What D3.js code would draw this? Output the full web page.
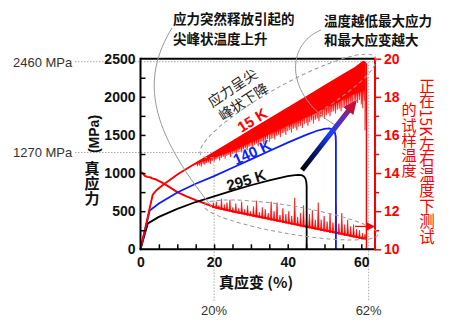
<!DOCTYPE html>
<html><head><meta charset="utf-8">
<script src="https://cdn.jsdelivr.net/npm/d3@7"></script>
<style>body{margin:0;background:#fff}svg{display:block}</style>
</head><body><svg id="c" width="452" height="325"></svg>
<script>
// ---------- data ----------
const strain295 = [0, 2.0, 5, 10, 15, 20, 25, 30, 35, 40, 41.5, 42.8, 43.8, 44.4, 44.85, 45.05, 45.15, 45.15];
const stress295 = [0, 340, 425, 530, 620, 695, 770, 840, 905, 960, 970, 977, 972, 955, 925, 885, 830, 0];

const strain140 = [0, 2.5, 5, 10, 15, 20, 25, 30, 35, 40, 45, 48, 50, 51.3, 52.2, 52.8, 53.05, 53.1, 53.1];
const stress140 = [0, 510, 600, 745, 860, 960, 1070, 1180, 1290, 1400, 1500, 1555, 1580, 1585, 1570, 1535, 1480, 1400, 0];

const strain15 = [0, 3.3, 4.4, 6, 10, 14, 17, 20, 25, 30, 35, 40, 45, 50, 55, 58, 60.5, 61.2];
const top15 = [0, 712, 778, 840, 980, 1100, 1185, 1270, 1415, 1560, 1705, 1850, 1995, 2140, 2285, 2370, 2460, 2450];
const low15 = [0, 712, 778, 840, 980, 1100, 1150, 1200, 1290, 1400, 1510, 1620, 1730, 1840, 1960, 2030, 2080, 2080];
const drop15Strain = 61.4;
const drop15From = 2440;
// serration drops of the 15 K curve: [strain %, lowest stress MPa]
const serr15 = [
 [15.5,1090],[16,1100],[16.5,1085],[17,1120],[17.5,1110],[18,1130],[18.5,1140],[19,1120],[19.5,1160],[20,1150],
 [20.5,1175],[21,1190],[21.5,1165],[22,1200],[22.5,1215],[23,1190],[23.5,1230],[24,1240],[24.5,1210],[25,1250],
 [25.5,1265],[26,1240],[26.5,1280],[27,1300],[27.5,1270],[28,1310],[28.5,1330],[29,1300],[29.5,1345],[30,1355],
 [30.5,1330],[31,1370],[31.5,1385],[32,1350],[32.5,1400],[33,1410],[33.5,1380],[34,1430],[34.5,1445],[35,1410],
 [35.5,1460],[36,1475],[36.5,1440],[37,1490],[37.5,1500],[38,1470],[38.5,1520],[39,1535],[39.5,1500],[40,1550],
 [40.5,1565],[41,1530],[41.5,1580],[42,1595],[42.5,1560],[43,1610],[43.5,1620],[44,1590],[44.5,1640],[45,1655],
 [45.5,1620],[46,1670],[46.5,1690],[47,1650],[47.5,1700],[48,1715],[48.5,1680],[49,1730],[49.5,1745],[50,1710],
 [50.5,1760],[51,1780],[51.5,1745],[52,1800],[52.5,1810],[53,1780],[53.5,1830],[54,1845],[54.5,1810],[55,1860],
 [55.5,1880],[56,1850],[56.5,1900],[57,1910],[57.5,1880],[58,1930],[58.5,1950],[59,1920],[59.5,1960],[60,1900],
 [60.4,1850],[60.8,1950],[61.0,1560]
];

// sample temperature (right axis, K)
const tempStrain = [0, 0.6, 1.2, 1.8, 2.6, 3.2, 4, 6, 8, 10, 12.5, 15, 17.5, 20, 25, 30, 35, 40, 45, 50, 55, 60, 61.4];
const tempK = [14.05, 14.0, 13.85, 13.8, 13.78, 13.72, 13.68, 13.48, 13.25, 13.0, 12.78, 12.58, 12.4, 12.22, 12.0, 11.8, 11.6, 11.4, 11.2, 11.0, 10.8, 10.6, 10.55];
// temperature spikes: [strain %, peak K]
const tempSpikes = [
 [19.8,12.45],[20.6,12.5],[21.3,12.3],[22.0,12.65],[22.8,12.35],[23.5,12.45],[24.3,12.6],[25.1,12.2],[25.9,12.4],[26.7,12.15],
 [27.5,12.5],[28.3,12.1],[29.1,12.3],[29.9,12.0],[30.7,12.25],[31.5,12.55],[32.3,11.95],[33.1,12.2],[33.9,12.1],[34.7,11.9],
 [35.5,12.5],[36.3,12.0],[37.1,12.45],[37.9,11.8],[38.7,12.15],[39.5,11.85],[40.3,12.0],[41.1,11.75],[41.9,12.7],[42.7,11.7],
 [43.5,11.9],[44.3,12.3],[45.1,11.65],[45.9,11.85],[46.7,12.05],[47.5,11.55],[48.3,12.45],[49.1,11.55],[49.9,11.75],[50.7,11.45],
 [51.5,11.9],[52.3,11.4],[53.1,12.4],[53.9,11.35],[54.7,11.9],[55.5,11.3],[56.3,11.55],[57.1,11.2],[57.9,11.3],[58.7,11.05],
 [59.5,11.0],[60.3,10.85],[61.0,10.8]
];

const yTicks = [0, 500, 1000, 1500, 2000, 2500];
const yMinor = [250, 500, 750, 1000, 1250, 1500, 1750, 2000, 2250];
const xTicks = [0, 20, 40, 60];
const xMinor = [5, 10, 15, 20, 25, 30, 35, 40, 45, 50, 55, 60];
const tTicks = [10, 12, 14, 16, 18, 20];
const tMinor = [11, 13, 15, 17, 19];
const refStress = [2460, 1270];
const refStrain = [62, 20];
const refStressLabels = ["2460 MPa", "1270 MPa"];
const refStrainLabels = ["62%", "20%"];

// ---------- scales ----------
const svg = d3.select("#c");
const xS = d3.scaleLinear().domain([0, 63.45]).range([140.5, 374]);
const yS = d3.scaleLinear().domain([0, 2500]).range([249.3, 58.7]);
const yT = d3.scaleLinear().domain([10, 20]).range([249.3, 58.7]);
const LAT = "'Liberation Sans', Arial, sans-serif";
const CJK = "'Noto Sans CJK SC', sans-serif";
const fmt = d3.format("d");

// reference dotted lines
const refG = svg.append("g").attr("stroke", "#aaa").attr("stroke-dasharray", "1.5,1.5").attr("fill", "none");
refG.append("line").attr("x1", 75).attr("x2", 376).attr("y1", yS(refStress[0])).attr("y2", yS(refStress[0]));
refG.append("line").attr("x1", xS(refStrain[0])).attr("x2", xS(refStrain[0])).attr("y1", yS(refStress[0])).attr("y2", 301);
refG.append("line").attr("x1", 75).attr("x2", xS(refStrain[1])).attr("y1", yS(refStress[1])).attr("y2", yS(refStress[1]));
refG.append("line").attr("x1", xS(refStrain[1])).attr("x2", xS(refStrain[1])).attr("y1", yS(refStress[1])).attr("y2", 301);
refStressLabels.forEach((t, i) => svg.append("text").attr("x", 13).attr("y", yS(refStress[i]) + 5)
  .attr("font-family", LAT).attr("font-size", 13).attr("fill", "#333").text(t));
refStrainLabels.forEach((t, i) => svg.append("text").attr("x", xS(refStrain[i])).attr("y", 315).attr("text-anchor", "middle")
  .attr("font-family", LAT).attr("font-size", 13).attr("fill", "#333").text(t));

// ---------- curves ----------
const pts = (xs, ys) => xs.map((x, i) => [x, ys[i]]);
const line = d3.line().x(d => xS(d[0])).y(d => yS(d[1]));
const tline = d3.line().x(d => xS(d[0])).y(d => yT(d[1]));

// temperature
const baseAt = d3.scaleLinear().domain(tempStrain).range(tempK);
svg.append("path").attr("d", tline(pts(tempStrain, tempK))).attr("fill", "none").attr("stroke", "#ff0000").attr("stroke-width", 2);
svg.append("g").selectAll("path").data(tempSpikes).join("path")
  .attr("d", d => `M${xS(d[0]) - 0.9},${yT(baseAt(d[0])) + 1}L${xS(d[0])},${yT(d[1])}L${xS(d[0]) + 0.9},${yT(baseAt(d[0])) + 1}Z`)
  .attr("fill", "#ff0000").attr("stroke", "#ff0000").attr("stroke-width", 0.6);

// 295 K
svg.append("path").attr("d", line(pts(strain295, stress295))).attr("fill", "none").attr("stroke", "#000").attr("stroke-width", 1.8);
// 140 K
svg.append("path").attr("d", line(pts(strain140, stress140))).attr("fill", "none").attr("stroke", "#0a1eff").attr("stroke-width", 1.8);

// 15 K: band between upper envelope and serrated lower edge
const topAt = d3.scaleLinear().domain(strain15).range(top15);
const coreAt = d3.scaleLinear().domain(strain15).range(low15);
const edge = strain15.map((s, i) => [s, low15[i]]);
serr15.forEach(([s, m]) => { edge.push([s - 0.17, coreAt(s - 0.17)], [s, m], [s + 0.17, coreAt(s + 0.17)]); });
edge.sort((a, b) => a[0] - b[0]);
const area15 = d3.area().x(d => xS(d[0])).y0(d => yS(d[1])).y1(d => yS(topAt(d[0])));
svg.append("path").attr("d", area15(edge)).attr("fill", "#ff0000").attr("stroke", "#ff0000").attr("stroke-width", 0.5);
svg.append("path").attr("d", line(pts(strain15, top15))).attr("fill", "none").attr("stroke", "#ff0000").attr("stroke-width", 1.8);
svg.append("line").attr("x1", xS(drop15Strain)).attr("x2", xS(drop15Strain))
  .attr("y1", yS(drop15From)).attr("y2", yS(0)).attr("stroke", "#ff0000").attr("stroke-width", 1.5);

// ---------- axes ----------
const axG = svg.append("g").attr("transform", `translate(${xS(0)},0)`);
axG.call(d3.axisLeft(yS).tickValues(yTicks).tickFormat(fmt).tickSize(0).tickPadding(5));
axG.call(g => g.select(".domain").remove());
axG.selectAll("text").attr("font-family", LAT).attr("font-size", 14).attr("font-weight", "bold").attr("fill", "#111");
const axGi = svg.append("g").attr("transform", `translate(${xS(0)},0)`);
axGi.call(d3.axisRight(yS).tickValues(yMinor).tickSize(5).tickFormat(""));
axGi.call(g => g.select(".domain").remove());
axGi.selectAll("line").attr("stroke", "#000").attr("stroke-width", 1.5);

const bxG = svg.append("g").attr("transform", `translate(0,${yS(0)})`);
bxG.call(d3.axisBottom(xS).tickValues(xTicks).tickFormat(fmt).tickSize(0).tickPadding(8));
bxG.call(g => g.select(".domain").remove());
bxG.selectAll("text").attr("font-family", LAT).attr("font-size", 14).attr("font-weight", "bold").attr("fill", "#111");
const bxGi = svg.append("g").attr("transform", `translate(0,${yS(0)})`);
bxGi.call(d3.axisTop(xS).tickValues(xMinor).tickSize(5).tickFormat(""));
bxGi.call(g => g.select(".domain").remove());
bxGi.selectAll("line").attr("stroke", "#000").attr("stroke-width", 1.5);

// frame
const [x0, x1] = xS.range();
svg.append("line").attr("x1", x0).attr("x2", x1 + 1).attr("y1", yS(2500)).attr("y2", yS(2500)).attr("stroke", "#000").attr("stroke-width", 2);
svg.append("line").attr("x1", x0).attr("x2", x1 + 1).attr("y1", yS(0)).attr("y2", yS(0)).attr("stroke", "#000").attr("stroke-width", 2);
svg.append("line").attr("x1", x0).attr("x2", x0).attr("y1", yS(2500) - 1).attr("y2", yS(0) + 1).attr("stroke", "#000").attr("stroke-width", 2);

// right axis
const rG = svg.append("g").attr("transform", `translate(${x1 + 1},0)`);
rG.call(d3.axisRight(yT).tickValues(tTicks).tickFormat(fmt).tickSize(6).tickPadding(3));
rG.select(".domain").attr("stroke", "#ff0000").attr("stroke-width", 2).attr("d", `M0,${yT(10) + 1}V${yT(20) - 1}`);
rG.selectAll(".tick line").attr("stroke", "#ff0000").attr("stroke-width", 1.5);
rG.selectAll("text").attr("font-family", LAT).attr("font-size", 14).attr("font-weight", "bold").attr("fill", "#ff0000");
const rGm = svg.append("g").attr("transform", `translate(${x1 + 1},0)`);
rGm.call(d3.axisRight(yT).tickValues(tMinor).tickSize(4).tickFormat(""));
rGm.select(".domain").remove();
rGm.selectAll("line").attr("stroke", "#ff0000").attr("stroke-width", 1.5);

// ---------- axis titles ----------
svg.append("text").attr("x", 256).attr("y", 288).attr("text-anchor", "middle")
  .attr("font-family", CJK).attr("font-size", 15).attr("font-weight", "bold").attr("fill", "#111").text("真应变 (%)");
svg.append("text").attr("transform", "translate(99,134) rotate(-90)").attr("text-anchor", "middle")
  .attr("font-family", LAT).attr("font-size", 14).attr("font-weight", "bold").attr("fill", "#111").text("(MPa)");
const vtext = (x, y, t, size, fill, weight) => svg.append("text").attr("x", x).attr("y", y)
  .style("writing-mode", "vertical-rl").style("text-orientation", "mixed")
  .attr("font-family", CJK).attr("font-size", size).attr("font-weight", weight).attr("fill", fill).text(t);
vtext(92, 161, "真应力", 15, "#111", "bold");
vtext(427, 78, "正在15K左右温度下测试", 15.5, "#ff0000", "normal");
vtext(409, 102, "的试样温度", 15.2, "#ff0000", "normal");

// ---------- annotations ----------
const ann = (x, y, t) => svg.append("text").attr("x", x).attr("y", y)
  .attr("font-family", CJK).attr("font-size", 13.5).attr("font-weight", "bold").attr("fill", "#111").text(t);
ann(173, 24, "应力突然释放引起的");
ann(173, 43.6, "尖峰状温度上升");
ann(324, 25.5, "温度越低最大应力");
ann(324, 45.1, "和最大应变越大");

// leader curves
svg.append("path").attr("d", "M172,28 C140,80 150,130 212,207").attr("fill", "none").attr("stroke", "#999").attr("stroke-width", 1);
svg.append("path").attr("d", "M321,30 C285,45 285,95 335,125").attr("fill", "none").attr("stroke", "#999").attr("stroke-width", 1);

// dashed ellipses
svg.append("ellipse").attr("cx", xS(40.1)).attr("cy", yS(1880)).attr("rx", 100).attr("ry", 21)
  .attr("transform", `rotate(-29,${xS(40.1)},${yS(1880)})`)
  .attr("fill", "none").attr("stroke", "#999").attr("stroke-dasharray", "4,3").attr("stroke-width", 1);
svg.append("ellipse").attr("cx", xS(40.9)).attr("cy", yT(11.54)).attr("rx", 88).attr("ry", 14)
  .attr("transform", `rotate(9.5,${xS(40.9)},${yT(11.54)})`)
  .attr("fill", "none").attr("stroke", "#999").attr("stroke-dasharray", "4,3").attr("stroke-width", 1);

// curve labels
const lab = (cx, cy, ang, t, fill, font, weight, size) => svg.append("text")
  .attr("transform", `translate(${cx},${cy}) rotate(${ang})`).attr("text-anchor", "middle").attr("dominant-baseline", "central")
  .attr("font-family", font).attr("font-weight", weight).attr("font-size", size).attr("fill", fill).text(t);
lab(252, 120, -32, "15 K", "#ff0000", LAT, "bold", 15);
lab(252, 152, -24, "140 K", "#0a1eff", LAT, "bold", 15);
lab(246, 180, -17, "295 K", "#111", LAT, "bold", 15);
lab(232, 87, -34, "应力呈尖", "#222", CJK, "normal", 14);
lab(243, 101, -33, "峰状下降", "#222", CJK, "normal", 14);

// gradient arrow
const a0 = [xS(43.9), yS(1040)], a1 = [xS(58.8), yS(1958)];
const defs = svg.append("defs");
const gr = defs.append("linearGradient").attr("id", "ag").attr("gradientUnits", "userSpaceOnUse")
  .attr("x1", a0[0]).attr("y1", a0[1]).attr("x2", a1[0]).attr("y2", a1[1]);
[[0, "#000"], [0.3, "#0a1a80"], [0.5, "#1a3cff"], [0.75, "#6a2aa8"], [1, "#c0103c"]]
  .forEach(s => gr.append("stop").attr("offset", s[0]).attr("stop-color", s[1]));
const dx = a1[0] - a0[0], dy = a1[1] - a0[1], L = Math.hypot(dx, dy), ux = dx / L, uy = dy / L;
svg.append("line").attr("x1", a0[0]).attr("y1", a0[1]).attr("x2", a1[0] - 10 * ux).attr("y2", a1[1] - 10 * uy)
  .attr("stroke", "url(#ag)").attr("stroke-width", 5);
const bc = [a1[0] - 14 * ux, a1[1] - 14 * uy];
svg.append("polygon").attr("points", [[a1[0], a1[1]], [bc[0] - 6.5 * uy, bc[1] + 6.5 * ux], [bc[0] + 6.5 * uy, bc[1] - 6.5 * ux]].map(p => p.join(",")).join(" "))
  .attr("fill", "#c0103c");

// small red arrow to the right axis
const ra = yT(11.2);
svg.append("line").attr("x1", xS(58.3)).attr("x2", x1 - 4).attr("y1", ra).attr("y2", ra).attr("stroke", "#ff0000").attr("stroke-width", 1.3);
svg.append("polygon").attr("points", `${x1 + 1},${ra} ${x1 - 7},${ra - 4} ${x1 - 7},${ra + 4}`).attr("fill", "#ff0000");
</script></body></html>
